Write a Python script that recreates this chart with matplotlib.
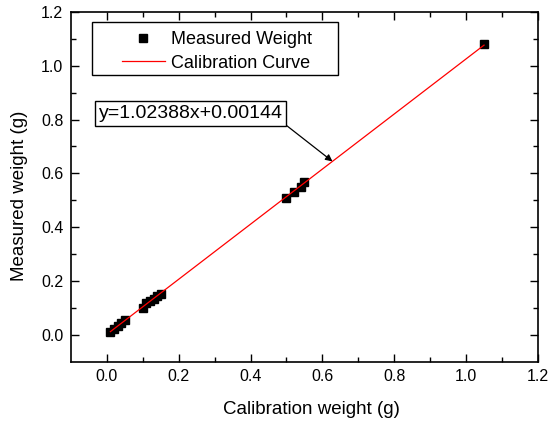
import numpy as np
import matplotlib.pyplot as plt
from matplotlib.patches import Rectangle

plt.rcParams['font.family'] = ['Liberation Sans', 'DejaVu Sans']

# ---- data ----
calib_w = [0.01, 0.02, 0.03, 0.04, 0.05, 0.10, 0.11, 0.12, 0.13, 0.14, 0.15,
           0.50, 0.52, 0.54, 0.55, 1.05]
meas_w = [0.012, 0.022, 0.033, 0.043, 0.056, 0.101, 0.118, 0.126, 0.133, 0.143, 0.151,
          0.509, 0.530, 0.551, 0.566, 1.080]
slope, intercept = 1.02388, 0.00144
fit_x = [0.01, 1.05]

fig = plt.figure(figsize=(5.56, 4.25), dpi=100)
ax = fig.add_axes([0.1275, 0.149, 0.84, 0.823])

ax.plot(calib_w, meas_w, 's', color='black', ms=5.5, label='Measured Weight', zorder=3)
fx = np.array(fit_x)
ax.plot(fx, slope * fx + intercept, color='red', lw=0.9, label='Calibration Curve', zorder=4)

ax.set_xlim(-0.1, 1.2)
ax.set_ylim(-0.1, 1.2)
ax.set_xticks(np.arange(0, 1.21, 0.2))
ax.set_yticks(np.arange(0, 1.21, 0.2))
ax.set_xticks(np.arange(0, 1.21, 0.1), minor=True)
ax.set_yticks(np.arange(0, 1.21, 0.1), minor=True)
ax.xaxis.set_major_formatter(plt.FuncFormatter(lambda v, p: f"{v:.1f}"))
ax.yaxis.set_major_formatter(plt.FuncFormatter(lambda v, p: f"{v:.1f}"))
ax.tick_params(which='major', direction='in', length=5.8, width=1, labelsize=11.5,
               top=True, right=True, pad=5.5)
ax.tick_params(which='minor', direction='in', length=3.6, width=1, top=True, right=True)
for s in ax.spines.values():
    s.set_linewidth(1.2)

ax.set_xlabel('Calibration weight (g)', fontsize=13.5)
ax.set_ylabel('Measured weight (g)', fontsize=13.5)
ax.xaxis.set_label_coords(0.515, -0.112)
ax.yaxis.set_label_coords(-0.092, 0.474)

# legend box (frame drawn as a plain square rectangle)
ax.add_patch(Rectangle((0.045, 0.82), 0.526, 0.151, transform=ax.transAxes,
                       fc='white', ec='black', lw=1.0, zorder=5))
leg = ax.legend(loc='upper left', bbox_to_anchor=(0.109, 0.944), fontsize=13,
                frameon=False, handlelength=2.4, numpoints=1, borderpad=0,
                borderaxespad=0, labelspacing=0.35, handletextpad=0.35)
leg.set_zorder(6)

ax.annotate('y=1.02388x+0.00144', xy=(0.628, slope * 0.628 + intercept),
            xytext=(0.233, 0.821), fontsize=14, ha='center', va='center',
            bbox=dict(boxstyle='square,pad=0.2', fc='white', ec='black', lw=1.0),
            arrowprops=dict(arrowstyle='-|>', color='black', lw=0.9, relpos=(1, 0),
                            shrinkA=0, shrinkB=0, mutation_scale=10),
            zorder=6)

fig.savefig('out.png', dpi=100)
